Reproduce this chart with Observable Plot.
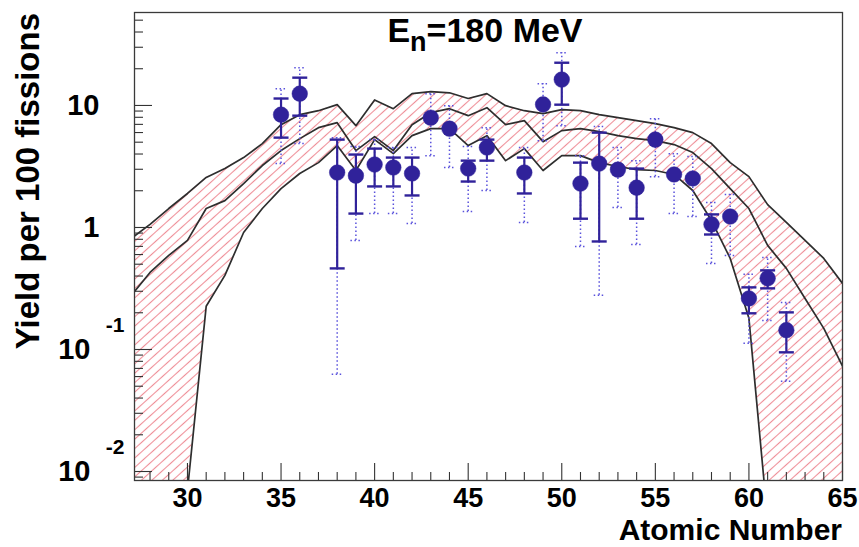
<!DOCTYPE html>
<html>
<head>
<meta charset="utf-8">
<script src="https://cdn.jsdelivr.net/npm/d3@7"></script>
<script src="https://cdn.jsdelivr.net/npm/@observablehq/plot@0.6"></script>
<style>
  html, body { margin: 0; padding: 0; background: #fff; }
  #chart { width: 859px; height: 547px; }
</style>
</head>
<body>
<div id="chart"></div>
<script>
// ---- model band curves (yield per 100 fissions vs atomic number) ----
const curveZ = [27,28,29,30,31,32,33,34,35,36,37,38,39,40,41,42,43,44,45,46,47,48,49,50,51,52,53,54,55,56,57,58,59,60,61,62,63,64,65];
const upperCurve  = [0.813,1.06,1.43,1.90,2.57,3.04,3.74,4.87,6.96,8.41,9.06,10.15,6.83,11.1,9.41,12.5,13.0,12.7,11.4,12.5,9.96,9.06,8.57,9.24,9.06,8.41,7.94,7.51,7.10,6.58,5.99,4.87,3.40,2.61,1.54,1.10,0.783,0.558,0.348];
const middleCurve = [0.278,0.428,0.590,0.783,1.43,1.66,2.29,3.22,4.27,5.35,6.58,7.23,4.27,5.56,4.27,6.96,8.73,9.41,8.25,9.59,6.96,7.51,5.05,6.22,6.46,6.11,5.66,5.35,5.15,4.78,4.11,3.04,2.08,1.43,0.713,0.462,0.262,0.149,0.0729];
const lowerCurve  = [0.0005,0.0005,0.0005,0.007,0.226,0.405,0.91,1.43,2.08,2.77,3.40,4.69,2.93,5.25,4.03,5.66,6.46,6.46,4.69,5.66,3.53,4.43,2.93,3.88,3.88,3.40,3.16,2.98,2.93,2.72,2.01,1.14,0.558,0.180,0.004,0.0005,0.0005,0.0005,0.0005];

// ---- measured yields ----
const pointZ   = [35,36,38,39,40,41,42,43,44,45,46,48,49,50,51,52,53,54,55,56,57,58,59,60,61,62];
const yields   = [8.41,12.5,2.82,2.66,3.28,3.10,2.77,7.94,6.46,3.04,4.52,2.82,10.2,16.3,2.29,3.34,2.98,2.12,5.25,2.72,2.52,1.06,1.23,0.262,0.383,0.144];
const statHigh = [11.4,16.9,5.25,3.96,4.43,3.74,3.74,null,null,3.53,5.25,3.74,null,22.4,3.40,5.99,null,3.04,null,null,null,1.28,null,0.323,0.445,0.2015];
const statLow  = [5.45,8.25,0.462,1.30,2.17,2.17,1.83,null,null,2.38,3.53,1.90,null,10.15,1.18,0.768,null,1.18,null,null,null,0.876,null,0.198,0.317,0.0948];
const totHigh  = [13.7,20.4,5.45,4.6,5.25,4.52,4.52,12.5,9.96,4.6,6.58,4.52,15.1,27.0,3.88,6.71,4.52,3.53,7.80,4.03,3.81,1.60,1.86,0.413,0.568,0.243];
const totLow   = [3.34,4.87,0.0627,0.783,1.30,1.30,1.08,3.88,3.10,1.35,2.01,1.10,5.15,6.83,0.70,0.278,1.46,0.726,2.61,1.30,1.23,0.507,0.590,0.1124,0.173,0.055];

// ---- axes ----
const xMajorTicks = [30,35,40,45,50,55,60,65];
const xMinorTicks = [28,29,31,32,33,34,36,37,38,39,41,42,43,44,46,47,48,49,51,52,53,54,56,57,58,59,61,62,63,64];
const yMajorTicks = [0.01,0.1,1,10];
const yMinorTicks = [0.009,0.02,0.03,0.04,0.05,0.06,0.07,0.08,0.09,0.2,0.3,0.4,0.5,0.6,0.7,0.8,0.9,2,3,4,5,6,7,8,9,20,30,40,50];
const yPlainLabels = [{v: 10, t: "10"}, {v: 1, t: "1"}];
const yPowerLabels = [{v: 0.1, t: "10", e: "-1"}, {v: 0.01, t: "10", e: "-2"}];

const titleMain = "E";
const titleSub = "n";
const titleRest = "=180 MeV";
const xTitle = "Atomic Number";
const yTitle = "Yield per 100 fissions";

const curves = curveZ.map((z, i) => ({z, up: upperCurve[i], mid: middleCurve[i], lo: lowerCurve[i]}));
const pts = pointZ.map((z, i) => ({z, y: yields[i], sh: statHigh[i], sl: statLow[i], th: totHigh[i], tl: totLow[i]}));
const statPts = pts.filter(d => d.sh != null);

const ink = "#30229a";
const dotted = "#5a52dc";
const capSymbol = {
  draw(ctx, size) {
    const w = Math.sqrt(size / Math.PI);
    ctx.moveTo(-w, 0);
    ctx.lineTo(w, 0);
  }
};

const W = 859, H = 547;
const mL = 134, mR = 17, mT = 12, mB = 67;
const frameW = W - mL - mR, frameH = H - mT - mB;
const font = "'Liberation Sans', Arial, Helvetica, sans-serif";

const chart = Plot.plot({
  width: W,
  height: H,
  marginLeft: mL,
  marginRight: mR,
  marginTop: mT,
  marginBottom: mB,
  style: {fontFamily: font, fontWeight: "bold", background: "#fff", color: "#000", overflow: "visible"},
  x: {domain: [27.17, 65], axis: null},
  y: {type: "log", domain: [0.00844, 57.8], axis: null},
  marks: [
    Plot.areaY(curves, {x: "z", y1: "lo", y2: "up", fill: "url(#hatch)", clip: true}),
    Plot.lineY(curves, {x: "z", y: "up", stroke: "#2e2e2e", strokeWidth: 1.7, clip: true}),
    Plot.lineY(curves, {x: "z", y: "mid", stroke: "#2e2e2e", strokeWidth: 1.7, clip: true}),
    Plot.lineY(curves, {x: "z", y: "lo", stroke: "#2e2e2e", strokeWidth: 1.7, clip: true}),
    // total (dotted) uncertainties
    Plot.ruleX(pts, {x: "z", y1: "tl", y2: "th", stroke: dotted, strokeWidth: 1.5, strokeDasharray: "1.5,2.5", clip: true}),
    Plot.dot(pts, {x: "z", y: "th", symbol: capSymbol, r: 5.5, stroke: dotted, strokeWidth: 1.5, strokeDasharray: "1.5,2.5", fill: "none"}),
    Plot.dot(pts, {x: "z", y: "tl", symbol: capSymbol, r: 5.5, stroke: dotted, strokeWidth: 1.5, strokeDasharray: "1.5,2.5", fill: "none"}),
    // statistical (solid) uncertainties
    Plot.ruleX(statPts, {x: "z", y1: "sl", y2: "sh", stroke: ink, strokeWidth: 2.2}),
    Plot.dot(statPts, {x: "z", y: "sh", symbol: capSymbol, r: 7.5, stroke: ink, strokeWidth: 2.4, fill: "none"}),
    Plot.dot(statPts, {x: "z", y: "sl", symbol: capSymbol, r: 7.5, stroke: ink, strokeWidth: 2.4, fill: "none"}),
    Plot.dot(pts, {x: "z", y: "y", r: 7.8, fill: ink, stroke: ink, strokeWidth: 0.5}),
    // ticks (drawn inside the frame)
    Plot.tickX(xMajorTicks, {x: d => d, insetTop: frameH - 17, stroke: "#333", strokeWidth: 1.1}),
    Plot.tickX(xMinorTicks, {x: d => d, insetTop: frameH - 8, stroke: "#333", strokeWidth: 1.1}),
    Plot.tickY(yMajorTicks, {y: d => d, insetRight: frameW - 18, stroke: "#333", strokeWidth: 1.1}),
    Plot.tickY(yMinorTicks, {y: d => d, insetRight: frameW - 9, stroke: "#333", strokeWidth: 1.1}),
    Plot.frame({stroke: "#3a3a3a", strokeWidth: 1.3}),
    // tick labels
    Plot.text(xMajorTicks, {x: d => d, text: d => String(d), frameAnchor: "bottom", lineAnchor: "top", dy: 7, fontSize: 27, fill: "#000"}),
    Plot.text(yPlainLabels, {y: "v", text: "t", frameAnchor: "left", textAnchor: "end", lineAnchor: "middle", dx: -35, fontSize: 29, fill: "#000"}),
    Plot.text(yPowerLabels, {y: "v", text: "t", frameAnchor: "left", textAnchor: "end", lineAnchor: "middle", dx: -44, fontSize: 29, fill: "#000"}),
    Plot.text(yPowerLabels, {y: "v", text: "e", frameAnchor: "left", textAnchor: "end", lineAnchor: "middle", dx: -10, dy: -24, fontSize: 21, fill: "#000"})
  ]
});

// hatch pattern definition
const svgSel = d3.select(chart);
const defs = svgSel.insert("defs", ":first-child");
const pat = defs.append("pattern")
  .attr("id", "hatch")
  .attr("patternUnits", "userSpaceOnUse")
  .attr("width", 14)
  .attr("height", 7)
  .attr("patternTransform", "rotate(-42)");
pat.append("line")
  .attr("x1", -1).attr("y1", 3.5).attr("x2", 15).attr("y2", 3.5)
  .attr("stroke", "#ee8e97").attr("stroke-width", 1.1);

// titles
const t = svgSel.append("text")
  .attr("x", 485).attr("y", 42)
  .attr("text-anchor", "middle")
  .attr("font-family", font).attr("font-weight", "bold").attr("font-size", 34).attr("fill", "#000");
t.append("tspan").text(titleMain);
t.append("tspan").attr("font-size", 27).attr("dy", 9).text(titleSub);
t.append("tspan").attr("dy", -9).text(titleRest);

svgSel.append("text")
  .attr("x", W - mR).attr("y", 540)
  .attr("text-anchor", "end")
  .attr("font-family", font).attr("font-weight", "bold").attr("font-size", 30).attr("fill", "#000")
  .text(xTitle);

svgSel.append("text")
  .attr("transform", "translate(39,13) rotate(-90)")
  .attr("text-anchor", "end")
  .attr("font-family", font).attr("font-weight", "bold").attr("font-size", 33).attr("fill", "#000")
  .text(yTitle);

document.getElementById("chart").appendChild(chart);
</script>
</body>
</html>
